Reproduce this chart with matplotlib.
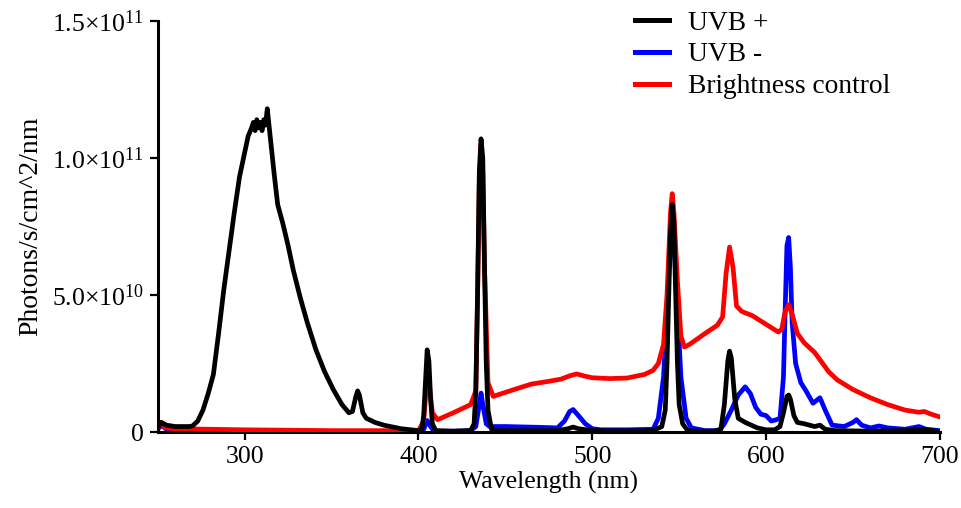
import matplotlib
matplotlib.use("Agg")
import matplotlib.pyplot as plt
import numpy as np

# spektra, värden i enheter av 1e10 photons/s/cm^2/nm
SCALE = 1e10

wl_uvb_plus = [250, 252, 255, 260, 265, 268, 270, 273, 276, 279, 282, 285, 288, 291, 294, 297,
               300, 302, 304, 305, 306, 307, 308, 309, 310, 311, 312, 313, 314, 315, 317, 319,
               322, 325, 328, 332, 336, 341, 346, 351, 356, 360, 362, 364, 365, 366, 368, 370,
               375, 380, 390, 400, 402, 403, 404, 405, 406, 407, 408, 410, 420, 430, 432, 433,
               434, 435, 436, 437, 438, 439, 440, 442, 445, 460, 480, 486, 489, 492, 500, 520,
               535, 540, 542, 543, 544, 545, 546, 547, 548, 549, 550, 552, 555, 560, 570, 574,
               576, 578, 579, 580, 582, 584, 588, 595, 600, 605, 608, 610, 612, 613, 614, 616,
               618, 622, 628, 631, 634, 640, 660, 680, 690, 700]
uvb_plus = [0.15, 0.35, 0.25, 0.2, 0.2, 0.2, 0.22, 0.4, 0.8, 1.4, 2.1, 3.6, 5.2, 6.6, 8.0, 9.3,
            10.2, 10.8, 11.1, 11.3, 11.0, 11.4, 11.1, 11.3, 11.0, 11.4, 11.2, 11.8, 11.2, 10.6, 9.4, 8.3,
            7.6, 6.8, 5.9, 4.9, 4.0, 3.0, 2.2, 1.55, 1.0, 0.7, 0.75, 1.3, 1.5, 1.35, 0.7, 0.5,
            0.35, 0.25, 0.12, 0.05, 0.1, 0.6, 1.8, 3.0, 2.6, 1.2, 0.3, 0.05, 0.03, 0.05, 0.3, 1.5,
            5.0, 9.5, 10.7, 10.0, 6.0, 2.5, 0.8, 0.1, 0.05, 0.05, 0.05, 0.12, 0.18, 0.12, 0.05, 0.04,
            0.05, 0.2, 0.8, 2.5, 5.0, 7.3, 8.3, 7.6, 5.0, 2.5, 1.0, 0.3, 0.05, 0.03, 0.03, 0.1,
            1.0, 2.6, 2.95, 2.7, 1.2, 0.5, 0.35, 0.15, 0.08, 0.08, 0.2, 0.7, 1.3, 1.35, 1.2, 0.6,
            0.35, 0.3, 0.2, 0.25, 0.1, 0.05, 0.03, 0.05, 0.1, 0.02]

wl_uvb_minus = [250, 252, 255, 260, 270, 300, 350, 400, 403, 405, 407, 409, 420, 430, 433, 435,
                436, 437, 439, 441, 450, 470, 480, 484, 487, 489, 492, 496, 500, 505, 520, 535,
                538, 541, 543, 545, 546, 547, 549, 551, 554, 557, 565, 573, 576, 580, 584, 588,
                591, 594, 597, 600, 603, 606, 608, 610, 611, 612, 613, 614, 615, 617, 620, 623,
                627, 631, 634, 638, 645, 650, 652, 655, 660, 665, 670, 680, 688, 692, 700]
uvb_minus = [0.1, 0.25, 0.1, 0.05, 0.03, 0.02, 0.02, 0.02, 0.1, 0.42, 0.2, 0.03, 0.03, 0.05, 0.2, 1.0,
             1.42, 1.0, 0.3, 0.2, 0.2, 0.17, 0.15, 0.4, 0.75, 0.82, 0.6, 0.3, 0.12, 0.08, 0.08, 0.1,
             0.5, 2.0, 4.5, 7.0, 7.8, 7.0, 4.5, 2.0, 0.5, 0.15, 0.05, 0.05, 0.3, 0.8, 1.35, 1.65,
             1.4, 0.9, 0.65, 0.6, 0.4, 0.45, 0.5, 2.0, 4.5, 6.8, 7.1, 6.0, 4.0, 2.5, 1.8, 1.5,
             1.05, 1.25, 0.8, 0.25, 0.2, 0.35, 0.45, 0.25, 0.15, 0.22, 0.15, 0.1, 0.2, 0.1, 0.05]

wl_control = [250, 252, 254, 260, 280, 300, 350, 400, 403, 405, 406, 408, 411, 420, 430, 433,
              434, 435, 436, 437, 438, 440, 443, 455, 465, 475, 482, 487, 491, 495, 500, 510,
              520, 530, 535, 538, 541, 543, 545, 546, 547, 549, 551, 553, 556, 565, 572, 575,
              577, 579, 581, 583, 586, 592, 597, 602, 607, 609, 611, 613, 615, 618, 622, 628,
              632, 636, 641, 650, 660, 670, 680, 688, 691, 695, 700]
control = [0.15, 0.35, 0.15, 0.12, 0.1, 0.08, 0.05, 0.05, 0.4, 2.0, 1.8, 0.7, 0.45, 0.7, 1.0, 1.5,
           5.0, 9.0, 10.5, 9.5, 6.0, 1.8, 1.3, 1.55, 1.75, 1.85, 1.93, 2.05, 2.12, 2.05, 1.98, 1.95,
           1.97, 2.1, 2.25, 2.5, 3.2, 5.0, 8.0, 8.7, 8.0, 5.5, 3.5, 3.1, 3.2, 3.6, 3.9, 4.2,
           5.8, 6.75, 6.0, 4.6, 4.4, 4.25, 4.05, 3.85, 3.65, 3.75, 4.4, 4.65, 4.3, 3.6, 3.25, 2.9,
           2.55, 2.2, 1.9, 1.55, 1.25, 1.0, 0.8, 0.72, 0.75, 0.65, 0.55]

labels = ["UVB +", "UVB -", "Brightness control"]
colors = ["black", "blue", "red"]

yticks = [0, 5e10, 1e11, 1.5e11]
ytick_labels = ["0", "5.0×10$^{10}$", "1.0×10$^{11}$", "1.5×10$^{11}$"]
xticks = [300, 400, 500, 600, 700]

plt.rcParams["font.family"] = ["Liberation Serif", "DejaVu Serif"]
plt.rcParams["mathtext.fontset"] = "custom"
plt.rcParams["mathtext.rm"] = "Liberation Serif"
plt.rcParams["mathtext.it"] = "Liberation Serif:italic"
plt.rcParams["mathtext.bf"] = "Liberation Serif:bold"

fig = plt.figure(figsize=(9.62, 5.08), dpi=100)
ax = fig.add_axes([0.164, 0.1496, 0.813, 0.809])

lw = 3.4
l_plus, = ax.plot(wl_uvb_plus, np.array(uvb_plus) * SCALE, color=colors[0], lw=lw, zorder=4)
l_minus, = ax.plot(wl_uvb_minus, np.array(uvb_minus) * SCALE, color=colors[1], lw=lw, zorder=2)
l_ctrl, = ax.plot(wl_control, np.array(control) * SCALE, color=colors[2], lw=lw, zorder=3)

ax.set_xlim(250, 700)
ax.set_ylim(0, 1.5e11)
ax.set_xticks(xticks)
ax.set_yticks(yticks)
ax.set_yticklabels(ytick_labels)
ax.tick_params(labelsize=18.5, length=6, width=1.6, direction="out", pad=4)

for s in ["top", "right"]:
    ax.spines[s].set_visible(False)
for s in ["left", "bottom"]:
    ax.spines[s].set_linewidth(2.2)

ax.set_xlabel("Wavelength (nm)", fontsize=18.5, labelpad=2)
ax.set_ylabel("Photons/s/cm^2/nm", fontsize=20, labelpad=6)

leg = ax.legend([l_plus, l_minus, l_ctrl], labels, loc="upper left",
                bbox_to_anchor=(616 / 962, 1 + 9 / 508), bbox_transform=fig.transFigure,
                frameon=False, fontsize=19.8, handlelength=1.22, handletextpad=0.7,
                labelspacing=0.24, borderpad=0.2)
for h in leg.get_lines():
    h.set_linewidth(3.6)

fig.savefig("out.png", dpi=100)
